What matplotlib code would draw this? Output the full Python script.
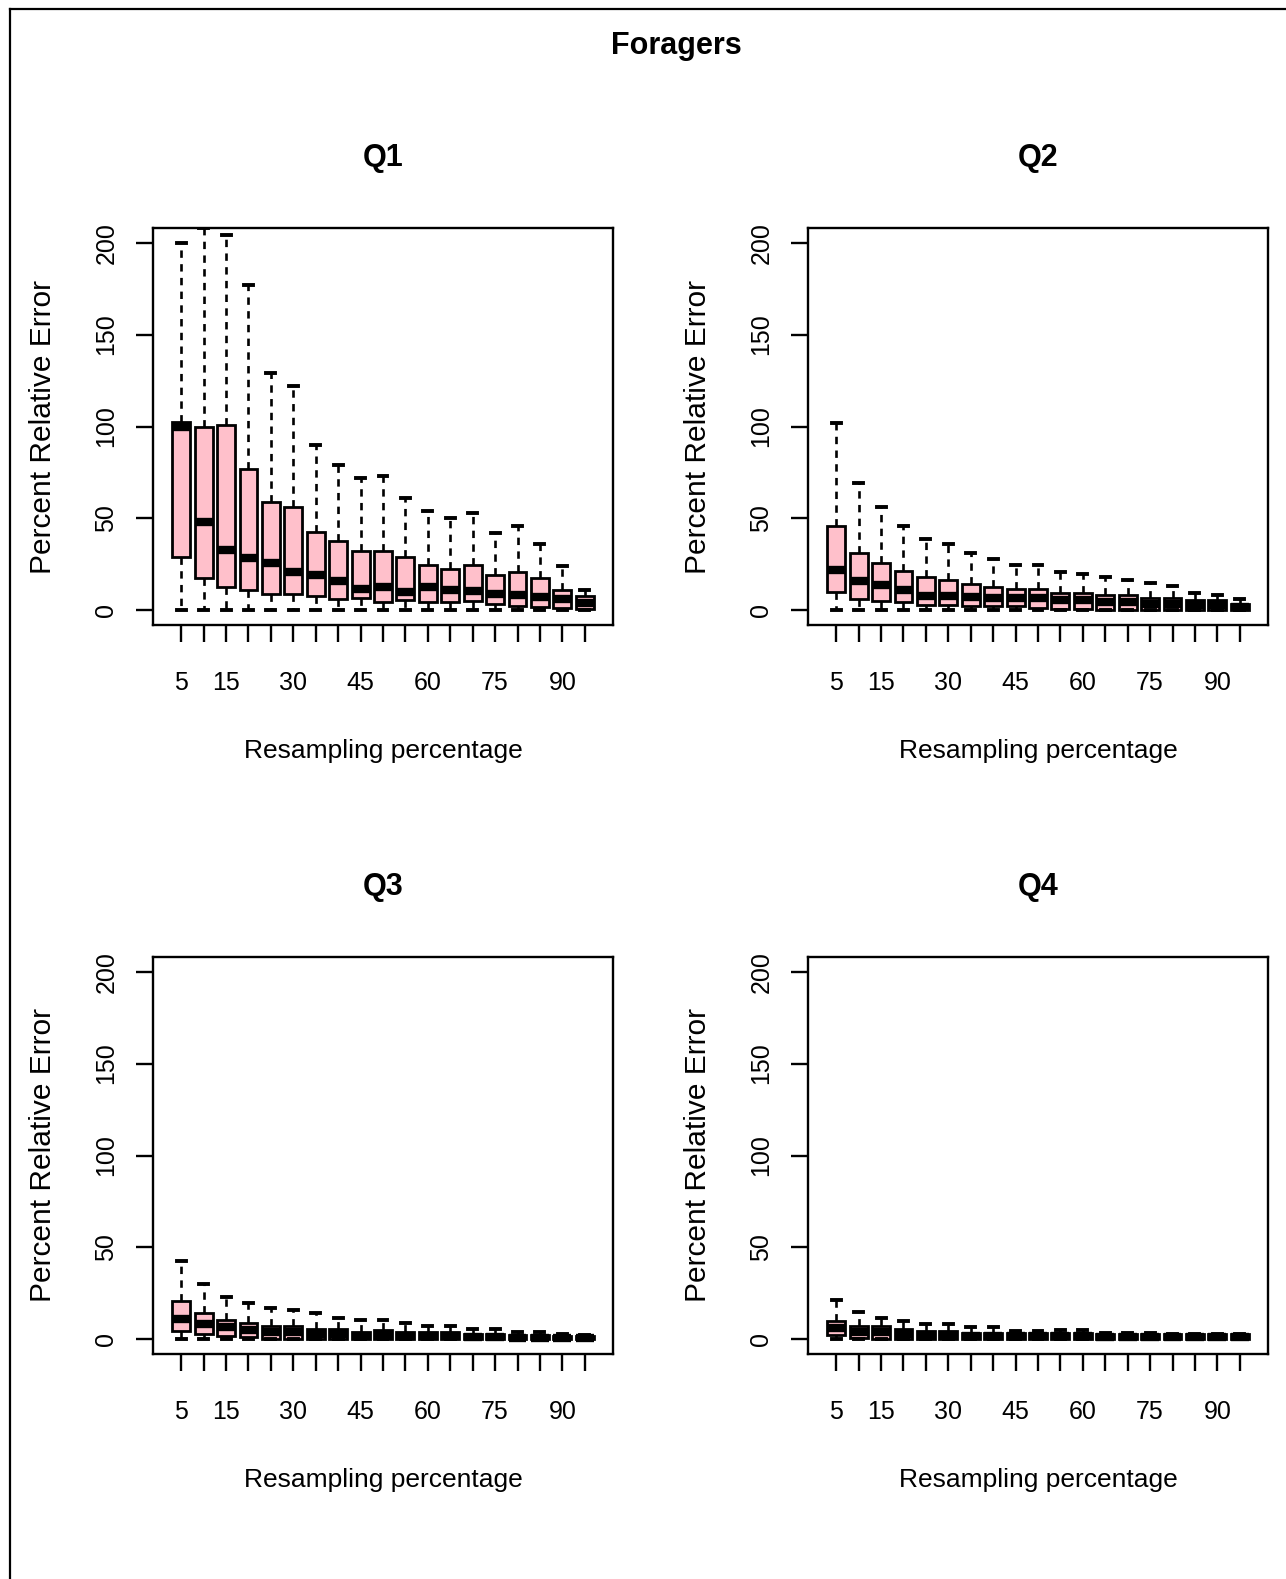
import matplotlib
matplotlib.use("Agg")
import matplotlib.pyplot as plt

plt.rcParams["font.family"] = ["Liberation Sans", "DejaVu Sans"]

# resampling percentages (one box each) and the labels R kept on the axis
pct = [5, 10, 15, 20, 25, 30, 35, 40, 45, 50, 55, 60, 65, 70, 75, 80, 85, 90, 95]
shown = [5, 15, 30, 45, 60, 75, 90]
panels = ["Q1", "Q2", "Q3", "Q4"]

# box statistics (percent relative error)
q1_whishi = [200, 208, 204, 177, 129, 122, 90, 79, 72, 73, 61, 54, 50, 53, 42, 46, 36, 24, 11]
q1_q3 = [102.5, 100, 101, 77, 59, 56, 42.5, 37.5, 32.5, 32.5, 29, 24.5, 22.5, 24.5, 19, 21, 17.5, 11, 8]
q1_med = [99.5, 48, 33, 28.5, 26, 21, 19, 16, 11.5, 12.5, 10, 12.5, 11, 10.5, 9, 8.5, 7.5, 6, 4]
q1_q1 = [29, 17.5, 12.5, 11, 9, 9, 8, 6, 6.5, 4.5, 5.5, 4.5, 4.5, 5, 3.5, 2.5, 2, 1, 0.5]
q1_whislo = [0] * 19

q2_whishi = [102, 69, 56, 46, 39, 36, 31, 28, 24.5, 24.5, 21, 19.5, 18, 16.5, 15, 13, 9.6, 8.2, 6.3]
q2_q3 = [46, 31, 26, 21.5, 18, 16.5, 14.5, 12.7, 11.4, 11.4, 9.6, 9.6, 8.2, 8.2, 6.7, 6.7, 5.4, 5.4, 3.6]
q2_med = [22, 16, 13.5, 11, 8, 8, 7, 6.5, 6.5, 6.5, 5.5, 5.5, 4.5, 4.5, 3.5, 3.5, 2.8, 2.8, 1.8]
q2_q1 = [10, 6, 4.9, 4.5, 3.1, 3.1, 2.4, 2.4, 2.4, 1.3, 0.9, 0.9, 0.4, 0.4, 0.2, 0.4, 0, 0, 0]
q2_whislo = [0] * 19

q3_whishi = [42.5, 30, 23, 20, 17, 15.7, 14.2, 11.5, 10.6, 10.6, 8.8, 7.3, 7.3, 5.5, 5.5, 4.2, 4.2, 2.9, 2.4]
q3_q3 = [20.6, 14.2, 10.6, 9.1, 7.3, 7.3, 5.5, 5.5, 4.2, 5.1, 4.2, 4.2, 4.2, 2.9, 2.9, 2.4, 2.4, 1.8, 1.8]
q3_med = [11.2, 8.2, 6.6, 5.1, 4.2, 4.2, 2.9, 2.9, 1.8, 2.4, 1.8, 1.8, 1.8, 1.1, 1.1, 0.9, 0.9, 0.6, 0.6]
q3_q1 = [4.5, 3, 1.8, 1.5, 0, 0, 0, 0, 0, 0, 0, 0, 0, 0, 0, 0, 0, 0, 0]
q3_whislo = [0] * 19

q4_whishi = [21.4, 14.6, 11.5, 9.7, 8.2, 8.2, 6.8, 6.8, 4.6, 4.6, 4.9, 4.9, 3.6, 3.6, 3.6, 3.1, 3.1, 3.1, 3.1]
q4_q3 = [10, 7.3, 7.3, 5.5, 4.6, 4.6, 3.6, 3.6, 3.6, 3.6, 3.6, 3.6, 3.1, 3.1, 3.1, 3.1, 3.1, 3.1, 3.1]
q4_med = [6, 4.2, 4.2, 3.1, 2.4, 2.4, 1.8, 1.8, 1.8, 1.8, 1.8, 1.8, 1.3, 1.3, 1.3, 1.3, 1.3, 1.3, 1.3]
q4_q1 = [2.5, 0.5, 0, 0, 0, 0, 0, 0, 0, 0, 0, 0, 0, 0, 0, 0, 0, 0, 0]
q4_whislo = [0] * 19

data = {
    "Q1": (q1_whislo, q1_q1, q1_med, q1_q3, q1_whishi),
    "Q2": (q2_whislo, q2_q1, q2_med, q2_q3, q2_whishi),
    "Q3": (q3_whislo, q3_q1, q3_med, q3_q3, q3_whishi),
    "Q4": (q4_whislo, q4_q1, q4_med, q4_q3, q4_whishi),
}

W, H = 1286, 1579
fig = plt.figure(figsize=(W / 100, H / 100), dpi=100)

# outer frame (left + top edge visible in the original)
fig.add_artist(plt.Line2D([10 / W, 10 / W], [0, 1 - 9 / H], color="black", lw=1.6))
fig.add_artist(plt.Line2D([10 / W, 1], [1 - 9 / H, 1 - 9 / H], color="black", lw=1.6))

fig.text(676 / W, 1 - 46 / H, "Foragers", ha="center", va="center",
         fontsize=22, fontweight="bold")

lefts, tops = [153, 808], [228, 957]
aw, ah = 460, 397
pos = list(range(1, len(pct) + 1))

for i, name in enumerate(panels):
    l, t = lefts[i % 2], tops[i // 2]
    ax = fig.add_axes([l / W, 1 - (t + ah) / H, aw / W, ah / H])
    lo, a, m, b, hi = data[name]
    stats = [dict(whislo=lo[k], q1=a[k], med=m[k], q3=b[k], whishi=hi[k]) for k in range(len(pct))]
    ax.bxp(stats, positions=pos, widths=0.8, capwidths=0.4, patch_artist=True,
           showfliers=False,
           boxprops=dict(facecolor="#FFC0CB", edgecolor="black", linewidth=2.0),
           medianprops=dict(color="black", linewidth=6.0, solid_capstyle="butt"),
           whiskerprops=dict(color="black", linewidth=1.9, linestyle=(0, (2.8, 2.4))),
           capprops=dict(color="black", linewidth=2.8))
    ax.set_xlim(-0.26, 20.26)
    ax.set_ylim(-8, 208)
    ax.set_xticks(pos)
    ax.set_xticklabels([str(p) if p in shown else "" for p in pct], fontsize=18)
    ax.set_yticks([0, 50, 100, 150, 200])
    ax.set_yticklabels(["0", "50", "100", "150", "200"], fontsize=18,
                       rotation=90, va="center")
    ax.tick_params(axis="both", direction="out", length=12, width=1.7)
    ax.tick_params(axis="x", pad=21)
    ax.tick_params(axis="y", pad=13)
    for s in ax.spines.values():
        s.set_linewidth(1.7)
    fig.text((l + aw / 2) / W, 1 - (t - 70) / H, name, ha="center", va="center",
             fontsize=22, fontweight="bold")
    fig.text((l + aw / 2) / W, 1 - (t + ah + 126) / H, "Resampling percentage",
             ha="center", va="center", fontsize=19)
    fig.text((l - 110) / W, 1 - (t + ah / 2) / H, "Percent Relative Error",
             ha="center", va="center", rotation=90, fontsize=21.5)

fig.savefig("out.png", dpi=100)
